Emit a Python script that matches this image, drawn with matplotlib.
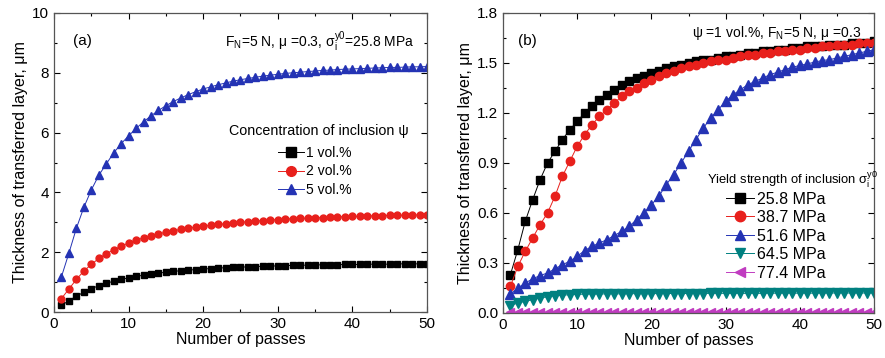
import numpy as np
import matplotlib.pyplot as plt
from matplotlib.lines import Line2D
from matplotlib.ticker import MultipleLocator

plt.rcParams['font.family'] = ['Liberation Sans', 'DejaVu Sans']
plt.rcParams['mathtext.fontset'] = 'custom'
plt.rcParams['mathtext.rm'] = 'Liberation Sans'

passes = list(range(1, 51))

# (a) concentration of inclusion
conc_labels = ['1 vol.%', '2 vol.%', '5 vol.%']
conc_1 = [0.22, 0.38, 0.53, 0.66, 0.78, 0.88, 0.96, 1.03, 1.09, 1.14,
          1.19, 1.23, 1.27, 1.30, 1.33, 1.36, 1.38, 1.40, 1.42, 1.44,
          1.45, 1.47, 1.48, 1.49, 1.50, 1.51, 1.52, 1.53, 1.54, 1.54,
          1.55, 1.56, 1.56, 1.57, 1.57, 1.58, 1.58, 1.58, 1.59, 1.59,
          1.59, 1.60, 1.60, 1.60, 1.60, 1.61, 1.61, 1.61, 1.61, 1.62]
conc_2 = [0.45, 0.77, 1.09, 1.37, 1.59, 1.79, 1.95, 2.08, 2.20, 2.31,
          2.40, 2.48, 2.55, 2.61, 2.67, 2.72, 2.76, 2.80, 2.84, 2.87,
          2.90, 2.93, 2.95, 2.98, 3.00, 3.02, 3.04, 3.06, 3.08, 3.09,
          3.11, 3.12, 3.13, 3.14, 3.15, 3.16, 3.17, 3.18, 3.19, 3.20,
          3.20, 3.21, 3.22, 3.22, 3.23, 3.23, 3.24, 3.24, 3.25, 3.25]
conc_5 = [1.18, 1.97, 2.80, 3.50, 4.08, 4.57, 4.95, 5.32, 5.63, 5.89,
          6.14, 6.36, 6.56, 6.74, 6.90, 7.04, 7.16, 7.27, 7.37, 7.46,
          7.53, 7.60, 7.66, 7.72, 7.77, 7.81, 7.85, 7.89, 7.92, 7.95,
          7.98, 8.00, 8.02, 8.04, 8.06, 8.08, 8.09, 8.11, 8.12, 8.13,
          8.14, 8.15, 8.16, 8.17, 8.18, 8.18, 8.19, 8.20, 8.20, 8.21]

# (b) yield strength of inclusion
ys_labels = ['25.8 MPa', '38.7 MPa', '51.6 MPa', '64.5 MPa', '77.4 MPa']
ys_258 = [0.23, 0.38, 0.55, 0.68, 0.80, 0.90, 0.97, 1.04, 1.10, 1.15,
          1.20, 1.24, 1.28, 1.31, 1.34, 1.37, 1.39, 1.41, 1.42, 1.44,
          1.45, 1.47, 1.48, 1.49, 1.50, 1.51, 1.52, 1.52, 1.53, 1.54,
          1.54, 1.55, 1.56, 1.56, 1.57, 1.57, 1.58, 1.58, 1.59, 1.59,
          1.60, 1.60, 1.60, 1.61, 1.61, 1.61, 1.62, 1.62, 1.62, 1.63]
ys_387 = [0.16, 0.28, 0.37, 0.45, 0.53, 0.60, 0.70, 0.82, 0.91, 1.00,
          1.07, 1.13, 1.18, 1.22, 1.26, 1.30, 1.33, 1.35, 1.38, 1.40,
          1.42, 1.44, 1.45, 1.47, 1.48, 1.49, 1.50, 1.51, 1.52, 1.52,
          1.53, 1.54, 1.55, 1.55, 1.56, 1.56, 1.57, 1.57, 1.58, 1.58,
          1.59, 1.59, 1.60, 1.60, 1.61, 1.61, 1.61, 1.62, 1.62, 1.62]
ys_516 = [0.115, 0.15, 0.18, 0.205, 0.225, 0.24, 0.265, 0.29, 0.31, 0.34,
          0.375, 0.40, 0.42, 0.44, 0.465, 0.49, 0.52, 0.56, 0.60, 0.65,
          0.70, 0.77, 0.83, 0.90, 0.97, 1.04, 1.11, 1.17, 1.22, 1.27,
          1.31, 1.34, 1.37, 1.39, 1.41, 1.43, 1.445, 1.46, 1.475, 1.485,
          1.495, 1.505, 1.515, 1.52, 1.53, 1.54, 1.55, 1.56, 1.57, 1.58]
ys_645 = [0.045, 0.06, 0.07, 0.08, 0.09, 0.097, 0.103, 0.107, 0.11, 0.112,
          0.113, 0.114, 0.114, 0.115, 0.115, 0.115, 0.116, 0.116, 0.116, 0.116,
          0.117, 0.117, 0.117, 0.117, 0.117, 0.117, 0.117, 0.118, 0.118, 0.118,
          0.118, 0.118, 0.118, 0.118, 0.118, 0.119, 0.119, 0.119, 0.119, 0.119,
          0.119, 0.119, 0.119, 0.120, 0.120, 0.120, 0.120, 0.120, 0.120, 0.120]
ys_774 = [0.005, 0.005, 0.005, 0.005, 0.005, 0.005, 0.005, 0.005, 0.005, 0.005,
          0.005, 0.005, 0.005, 0.005, 0.005, 0.005, 0.005, 0.005, 0.005, 0.005,
          0.005, 0.005, 0.005, 0.005, 0.005, 0.005, 0.005, 0.005, 0.005, 0.005,
          0.005, 0.005, 0.005, 0.005, 0.005, 0.005, 0.005, 0.005, 0.005, 0.005,
          0.005, 0.005, 0.005, 0.005, 0.005, 0.005, 0.005, 0.005, 0.005, 0.005]

colors = ['black', '#e8201c', '#2433b4', '#008080', '#c03cc0']
markers = ['s', 'o', '^', 'v', '<']
msizes = [4.5, 5.0, 5.5, 5.5, 5.0]

W, H = 885, 358
fig = plt.figure(figsize=(W / 100, H / 100), dpi=100)
ax1 = fig.add_axes([54 / W, 1 - 312 / H, 373 / W, 299 / H])
ax2 = fig.add_axes([503 / W, 1 - 313 / H, 371 / W, 300 / H])


def style_axes(ax, ymax, ymaj, ymin):
    ax.set_xlim(0, 50)
    ax.set_ylim(0, ymax)
    ax.xaxis.set_major_locator(MultipleLocator(10))
    ax.xaxis.set_minor_locator(MultipleLocator(5))
    ax.yaxis.set_major_locator(MultipleLocator(ymaj))
    ax.yaxis.set_minor_locator(MultipleLocator(ymin))
    ax.tick_params(which='both', direction='in', top=True, right=True, labelsize=11)
    ax.tick_params(which='major', length=4, width=0.8)
    ax.tick_params(which='minor', length=2.5, width=0.8)
    for s in ax.spines.values():
        s.set_linewidth(0.9)
        s.set_color('#555555')
    ax.set_xlabel('Number of passes', fontsize=11.5, labelpad=1)
    ax.set_ylabel('Thickness of transferred layer, μm', fontsize=11.5, labelpad=3)


# panel (a)
series_a = [conc_1, conc_2, conc_5]
for i, ys in enumerate(series_a):
    ax1.plot(passes, ys, color=colors[i], lw=0.7, marker=markers[i],
             ms=msizes[i], mec=colors[i], mfc=colors[i])
style_axes(ax1, 10, 2, 1)
ax1.yaxis.set_major_formatter(plt.FuncFormatter(lambda v, p: f'{v:.0f}'))
ax1.text(0.05, 0.905, '(a)', transform=ax1.transAxes, fontsize=11, va='center')
ax1.text(0.965, 0.905, r'F$_\mathregular{N}$=5 N, μ =0.3, σ$_\mathregular{i}^\mathregular{y0}$=25.8 MPa',
         transform=ax1.transAxes, fontsize=10, va='center', ha='right')
ax1.text(0.95, 0.604, 'Concentration of inclusion ψ', transform=ax1.transAxes,
         fontsize=10.3, va='center', ha='right')
handles_a = [Line2D([], [], color=colors[i], lw=0.7, marker=markers[i], ms=7,
                    mfc=colors[i], mec=colors[i]) for i in range(3)]
ax1.legend(handles_a, conc_labels, loc='upper left', bbox_to_anchor=(0.6, 0.555),
           frameon=False, fontsize=10, handlelength=1.9, handletextpad=0.15,
           labelspacing=0.32, borderpad=0, borderaxespad=0)

# panel (b)
series_b = [ys_258, ys_387, ys_516, ys_645, ys_774]
for i, ys in enumerate(series_b):
    ax2.plot(passes, ys, color=colors[i], lw=0.7, marker=markers[i],
             ms=msizes[i] + 1.0, mec=colors[i], mfc=colors[i])
style_axes(ax2, 1.8, 0.3, 0.15)
ax2.yaxis.set_major_formatter(plt.FuncFormatter(lambda v, p: f'{v:.1f}'))
ax2.text(0.04, 0.905, '(b)', transform=ax2.transAxes, fontsize=11, va='center')
ax2.text(0.965, 0.935, r'ψ =1 vol.%, F$_\mathregular{N}$=5 N, μ =0.3',
         transform=ax2.transAxes, fontsize=10, va='center', ha='right')
ax2.text(1.01, 0.445, r'Yield strength of inclusion σ$_\mathregular{i}^\mathregular{y0}$',
         transform=ax2.transAxes, fontsize=9.4, va='center', ha='right')
handles_b = [Line2D([], [], color=colors[i], lw=0.7, marker=markers[i], ms=7.5,
                    mfc=colors[i], mec=colors[i]) for i in range(5)]
ax2.legend(handles_b, ys_labels, loc='upper left', bbox_to_anchor=(0.6, 0.405),
           frameon=False, fontsize=11.5, handlelength=1.8, handletextpad=0.15,
           labelspacing=0.22, borderpad=0, borderaxespad=0)

fig.savefig('out.png', dpi=100)
